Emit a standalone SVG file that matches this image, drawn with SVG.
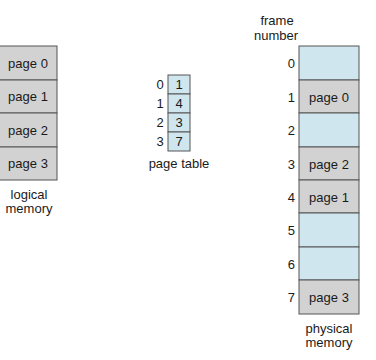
<svg xmlns="http://www.w3.org/2000/svg" width="376" height="360" viewBox="0 0 376 360">
<style>
text{font-family:"Liberation Sans",Arial,sans-serif;font-size:13px;fill:#1a1a1a}
.c{text-anchor:middle}
.r{text-anchor:end}
.g{fill:#d2d2d2;stroke:#555;stroke-width:1}
.b{fill:#cfe6ef;stroke:#555;stroke-width:1}
</style>
<rect width="376" height="360" fill="#fff"/>
<g id="logical-memory">
<rect class="g" x="-2" y="46" width="59" height="34"/>
<rect class="g" x="-2" y="80" width="59" height="33"/>
<rect class="g" x="-2" y="113" width="59" height="34"/>
<rect class="g" x="-2" y="147" width="59" height="33"/>
<text class="c" x="28" y="68">page 0</text>
<text class="c" x="28" y="101">page 1</text>
<text class="c" x="28" y="135">page 2</text>
<text class="c" x="28" y="168">page 3</text>
<text class="c" x="29" y="199">logical</text>
<text class="c" x="29" y="213">memory</text>
</g>
<g id="page-table">
<rect class="b" x="168" y="75" width="22" height="19"/>
<rect class="b" x="168" y="94" width="22" height="19"/>
<rect class="b" x="168" y="113" width="22" height="19"/>
<rect class="b" x="168" y="132" width="22" height="19"/>
<text class="c" x="179" y="89">1</text>
<text class="c" x="179" y="108">4</text>
<text class="c" x="179" y="127">3</text>
<text class="c" x="179" y="146">7</text>
<text class="c" x="160" y="89">0</text>
<text class="c" x="160" y="108">1</text>
<text class="c" x="160" y="127">2</text>
<text class="c" x="160" y="146">3</text>
<text class="c" x="179" y="168">page table</text>
</g>
<g id="physical-memory">
<rect class="b" x="299" y="46" width="60" height="34"/>
<rect class="g" x="299" y="80" width="60" height="33"/>
<rect class="b" x="299" y="113" width="60" height="34"/>
<rect class="g" x="299" y="147" width="60" height="33"/>
<rect class="g" x="299" y="180" width="60" height="33"/>
<rect class="b" x="299" y="213" width="60" height="34"/>
<rect class="b" x="299" y="247" width="60" height="33"/>
<rect class="g" x="299" y="280" width="60" height="34"/>
<text class="c" x="329" y="102">page 0</text>
<text class="c" x="329" y="169">page 2</text>
<text class="c" x="329" y="202">page 1</text>
<text class="c" x="329" y="302">page 3</text>
<text class="r" x="295" y="68">0</text>
<text class="r" x="295" y="102">1</text>
<text class="r" x="295" y="135">2</text>
<text class="r" x="295" y="169">3</text>
<text class="r" x="295" y="202">4</text>
<text class="r" x="295" y="235">5</text>
<text class="r" x="295" y="269">6</text>
<text class="r" x="295" y="302">7</text>
<text class="c" x="277" y="25">frame</text>
<text class="c" x="276" y="40">number</text>
<text class="c" x="329" y="333">physical</text>
<text class="c" x="329" y="347">memory</text>
</g>
</svg>
